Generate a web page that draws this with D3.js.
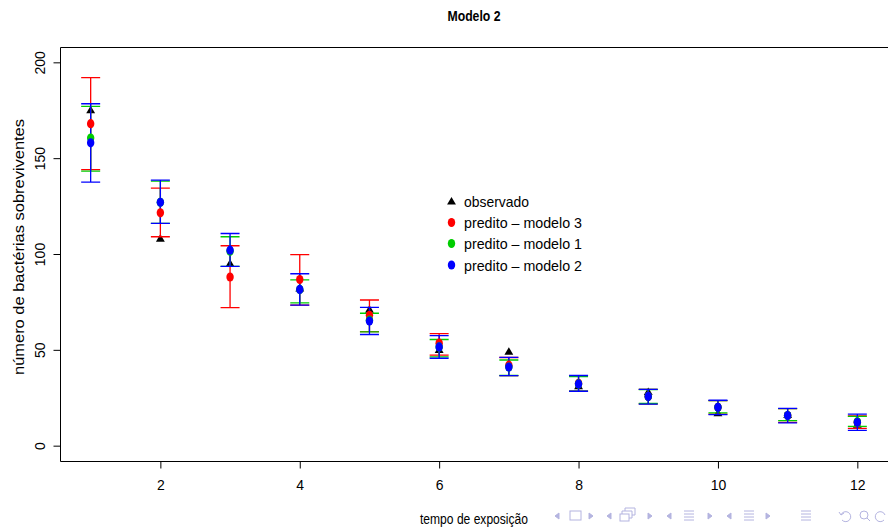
<!DOCTYPE html>
<html>
<head>
<meta charset="utf-8">
<script src="https://cdn.jsdelivr.net/npm/d3@7"></script>
<style>
  html, body { margin: 0; padding: 0; background: #fff; }
  svg { display: block; font-family: "Liberation Sans", Arial, Helvetica, sans-serif; }
</style>
</head>
<body>
<svg id="chart" width="888" height="528"></svg>
<script>
// ---------------- data ----------------
const tempo = [1, 2, 3, 4, 5, 6, 7, 8, 9, 10, 11, 12];
const observado = [175, 108, 95, 82, 71, 50, 49, 31, 28, 17, 16, 11];

// predito - modelo 3 (red)
const predito3 = [168, 121.5, 88, 86.7, 68, 53.5, 42, 32.5, 25.7, 20, 15.7, 12.2];
const inf3     = [144, 109, 72, 73.3, 59.5, 47.2, 36.5, 28.5, 21.8, 16.5, 12.2, 9];
const sup3     = [192, 134.4, 104.3, 99.7, 76, 58.5, 46, 36.5, 29.4, 23.5, 19.3, 15.5];

// predito - modelo 1 (green)
const predito1 = [160.5, 127, 101.5, 81.5, 65.5, 51.5, 41, 32.2, 25.7, 20, 15.7, 12.5];
const inf1     = [143.2, 116, 93.5, 74.5, 59.4, 46.3, 36.6, 28.5, 22, 17.1, 13.1, 10.1];
const sup1     = [177, 138, 109, 86.5, 69.1, 55.4, 44.7, 36, 29.3, 23.5, 19.3, 15.3];

// predito - modelo 2 (blue)
const predito2 = [158, 127, 102, 81.5, 65, 51.5, 41, 32.2, 25.7, 20, 15.7, 12.2];
const inf2     = [137.5, 116, 93.5, 73.3, 58, 45.6, 36.5, 28.4, 21.7, 16.2, 11.9, 8];
const sup2     = [178.4, 138.5, 110.7, 89.7, 72.2, 57.4, 46.1, 36.6, 29.4, 23.7, 19.5, 16.5];

const xTicks = [2, 4, 6, 8, 10, 12];
const yTicks = [0, 50, 100, 150, 200];
const legendLabels = ["observado", "predito \u2013 modelo 3", "predito \u2013 modelo 1", "predito \u2013 modelo 2"];
const titleText = "Modelo 2";
const xTitle = "tempo de exposição";
const yTitle = "número de bactérias sobreviventes";

// ---------------- layout ----------------
const svg = d3.select("#chart");
const L = 60, T = 47, R = 888, B = 461;
const x = d3.scaleLinear().domain([0.56, 12.44]).range([L, R]);
const y = d3.scaleLinear().domain([-8, 208]).range([B, T]);

const RED = "#ff0000", GREEN = "#00cd00", BLUE = "#0000ff";

function fit(sel, w) {
  sel.attr("textLength", w).attr("lengthAdjust", "spacingAndGlyphs");
  return sel;
}

// title
fit(svg.append("text")
  .attr("x", 474).attr("y", 20.5)
  .attr("text-anchor", "middle")
  .attr("font-weight", "bold")
  .attr("font-size", 15)
  .text(titleText), 53);

// box
svg.append("path")
  .attr("d", `M${R + 2},${T + 0.5}H${L + 0.5}V${B + 0.5}H${R + 2}`)
  .attr("fill", "none").attr("stroke", "#000").attr("stroke-width", 1);

// x axis
const gx = svg.append("g").attr("transform", `translate(0,${B + 0.5})`)
  .call(d3.axisBottom(x).tickValues(xTicks).tickSize(7).tickPadding(12).tickFormat(d3.format("d")));
gx.select(".domain").remove();
gx.selectAll("text").attr("font-size", 14).attr("font-family", "Liberation Sans, Arial, sans-serif").attr("fill", "#000");

// y axis
const gy = svg.append("g").attr("transform", `translate(${L + 0.5},0)`)
  .call(d3.axisLeft(y).tickValues(yTicks).tickSize(7).tickFormat(d3.format("d")));
gy.select(".domain").remove();
gy.selectAll("text")
  .attr("font-size", 14).attr("font-family", "Liberation Sans, Arial, sans-serif").attr("fill", "#000")
  .attr("x", null).attr("dy", null)
  .attr("text-anchor", "middle")
  .attr("transform", "translate(-15.5,0) rotate(-90)");

// axis titles
fit(svg.append("text")
  .attr("x", 474).attr("y", 524)
  .attr("text-anchor", "middle").attr("font-size", 14)
  .text(xTitle), 108);

fit(svg.append("text")
  .attr("transform", "translate(24,247) rotate(-90)")
  .attr("text-anchor", "middle").attr("font-size", 15)
  .text(yTitle), 256);

// ---------------- marks ----------------
const series = [
  { pt: predito3, lo: inf3, hi: sup3, color: RED },
  { pt: predito1, lo: inf1, hi: sup1, color: GREEN },
  { pt: predito2, lo: inf2, hi: sup2, color: BLUE }
];
const cap = 9.5;

// observed triangles (drawn first, underneath)
const tri = d3.symbol().type(d3.symbolTriangle).size(34);
svg.append("g").selectAll("path").data(tempo).join("path")
  .attr("transform", (t, i) => `translate(${x(t)},${y(observado[i]) + 0.5})`)
  .attr("d", tri).attr("fill", "#000");

series.forEach(s => {
  const g = svg.append("g").attr("stroke", s.color).attr("stroke-width", 1.3).attr("fill", "none");
  g.selectAll("path").data(tempo).join("path")
    .attr("d", (t, i) => {
      const cx = x(t), y0 = y(s.lo[i]), y1 = y(s.hi[i]);
      return `M${cx},${y0}V${y1}M${cx - cap},${y1}H${cx + cap}M${cx - cap},${y0}H${cx + cap}`;
    });
});

// predicted points
series.forEach(s => {
  svg.append("g").selectAll("ellipse").data(tempo).join("ellipse")
    .attr("cx", t => x(t))
    .attr("cy", (t, i) => y(s.pt[i]))
    .attr("rx", 3.7).attr("ry", 4.6)
    .attr("fill", s.color);
});

// ---------------- legend ----------------
const legY = [201.5, 222.5, 243.5, 265];
const legColors = ["#000", RED, GREEN, BLUE];
const lg = svg.append("g");
lg.append("path")
  .attr("transform", `translate(451.5,${legY[0] + 0.5})`)
  .attr("d", tri).attr("fill", "#000");
[1, 2, 3].forEach(k => {
  lg.append("ellipse").attr("cx", 451.5).attr("cy", legY[k]).attr("rx", 3.7).attr("ry", 4.6).attr("fill", legColors[k]);
});
legendLabels.forEach((lab, k) => {
  fit(lg.append("text").attr("x", 464).attr("y", legY[k] + 5.5).attr("font-size", 15).attr("fill", "#000").text(lab),
      k === 0 ? 65 : 118);
});

// ---------------- beamer navigation icons (decoration) ----------------
const nav = svg.append("g").attr("fill", "none").attr("stroke", "#b4b4e0").attr("stroke-width", 1);
const ny = 516;
function leftArrow(cx) { nav.append("path").attr("d", `M${cx + 2},${ny - 3}L${cx - 2},${ny}L${cx + 2},${ny + 3}Z`).attr("fill", "#b4b4e0"); }
function rightArrow(cx) { nav.append("path").attr("d", `M${cx - 2},${ny - 3}L${cx + 2},${ny}L${cx - 2},${ny + 3}Z`).attr("fill", "#b4b4e0"); }
function lines3(cx) {
  nav.append("path").attr("d", `M${cx - 5},${ny - 5}H${cx + 5}M${cx - 5},${ny - 2}H${cx + 5}M${cx - 5},${ny + 1}H${cx + 5}M${cx - 5},${ny + 4}H${cx + 5}`);
}
leftArrow(557); nav.append("rect").attr("x", 570).attr("y", ny - 5).attr("width", 11).attr("height", 9); rightArrow(591);
leftArrow(609);
nav.append("rect").attr("x", 620).attr("y", ny - 2).attr("width", 9).attr("height", 7);
nav.append("path").attr("d", `M${622},${ny - 2}V${ny - 5}H${632}V${ny + 2}H${629}M${625},${ny - 5}V${ny - 8}H${635}V${ny - 1}H${632}`);
rightArrow(650);
leftArrow(669); lines3(689); rightArrow(710);
leftArrow(729); lines3(749); rightArrow(768);
lines3(806);
nav.append("path").attr("d", `M${842},${ny + 4}A5,5 0 1 0 ${841},${ny - 1}M${839},${ny - 4}L${841},${ny - 1}L${844},${ny - 3}`);
nav.append("circle").attr("cx", 864).attr("cy", ny - 1).attr("r", 4);
nav.append("path").attr("d", `M${867},${ny + 2}L${870},${ny + 5}`);
nav.append("path").attr("d", `M${884},${ny + 4}A5,5 0 1 1 ${885},${ny - 1}`);
</script>
</body>
</html>
